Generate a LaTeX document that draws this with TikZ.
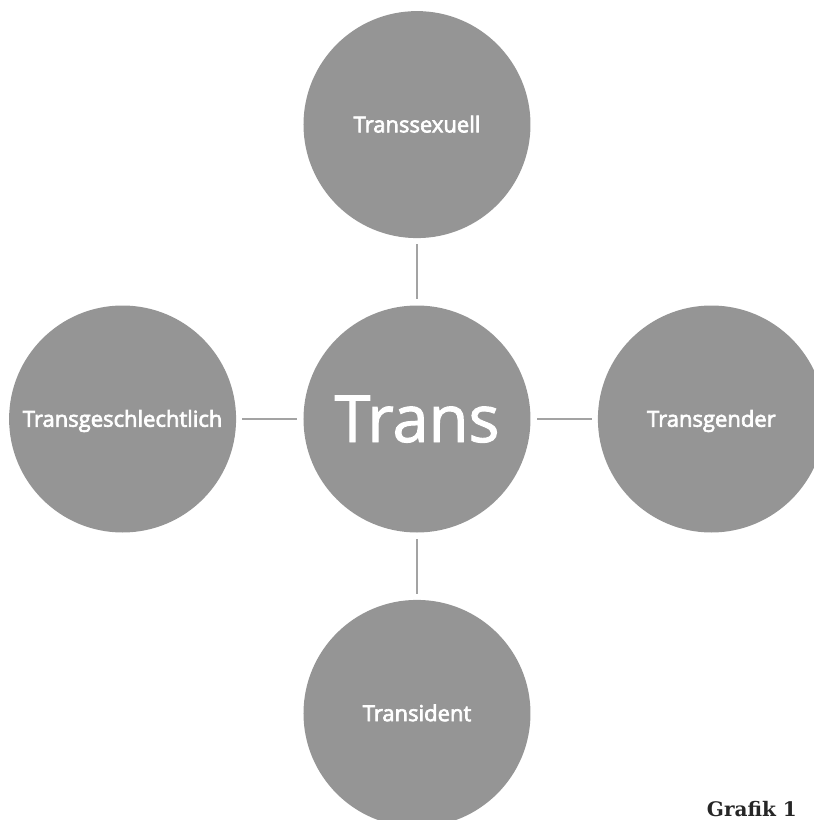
\documentclass[tikz,border=0pt]{standalone}
\usepackage{fontspec}
\setmainfont{Open Sans}
\newfontfamily\labelfont{Open Sans}[FakeBold=3]
\newfontfamily\corefont{Open Sans}[FakeBold=1.5]
\newfontfamily\captionfont{DejaVu Serif}
\usetikzlibrary{positioning}
\definecolor{circlegray}{HTML}{959595}
\definecolor{linegray}{HTML}{A3A3A3}

\begin{document}
\begin{tikzpicture}[x=1pt, y=1pt, node distance=67pt]
    \tikzstyle{every node} = [align=center]
    \tikzstyle{term} = [circle, fill=circlegray, text=white, minimum size=227pt, inner sep=0pt,
        font=\labelfont\fontsize{22}{26}\selectfont, text height=15.5pt, text depth=0pt]
    \tikzstyle{core} = [term, font=\corefont\fontsize{65}{72}\selectfont, text height=46pt]
    \tikzstyle{link} = [draw=linegray, line width=2pt, shorten <=6pt, shorten >=6pt]
    \useasboundingbox (-417,-401) rectangle (397,419);
    \node [core] (trans) at (0,0) {Trans};
    \node [term, above=of trans] (sexuell) {Transsexuell};
    \node [term, left=of trans] (geschlecht) {Transgeschlechtlich};
    \node [term, right=of trans] (gender) {Transgender};
    \node [term, below=of trans] (ident) {Transident};
    \draw [link] (sexuell) -- (trans);
    \draw [link] (geschlecht) -- (trans);
    \draw [link] (gender) -- (trans);
    \draw [link] (ident) -- (trans);
    % caption bottom right
    \node [anchor=base east, inner sep=0pt, font=\captionfont\bfseries\fontsize{20}{24}\selectfont, text=black!85]
        (caption) at (380,-397) {Grafik 1};
\end{tikzpicture}
\end{document}
